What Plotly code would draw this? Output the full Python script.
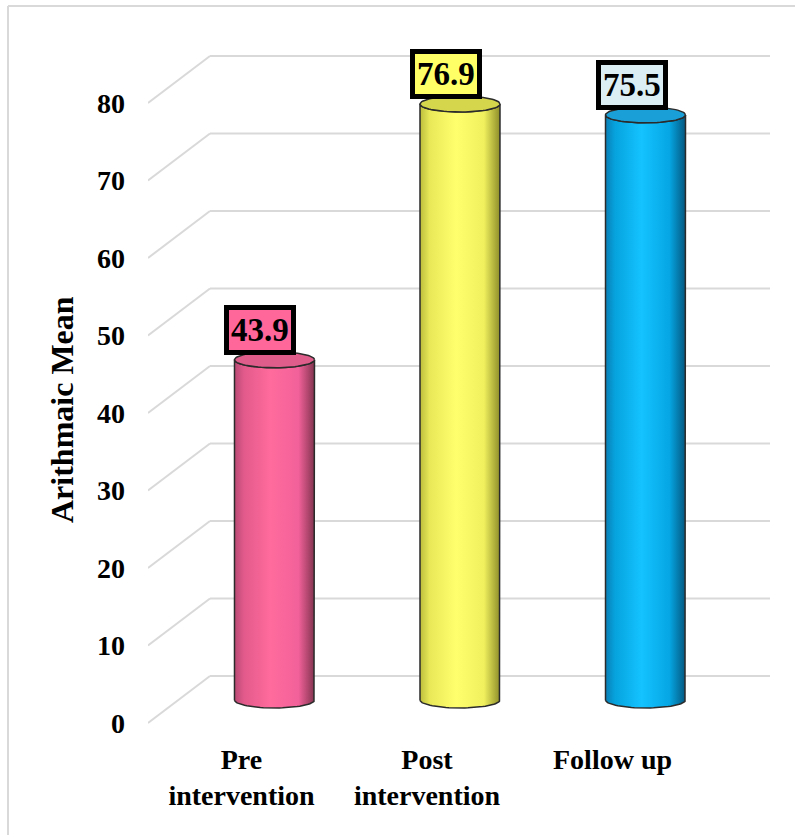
import numpy as np
import plotly.graph_objects as go

# ---- data ----
categories = ["Pre<br>intervention", "Post<br>intervention", "Follow up"]
mean_values = [43.9, 76.9, 75.5]
tick_values = [0, 10, 20, 30, 40, 50, 60, 70, 80]

# ---- styling ----
body_scales = [
    [[0, "#B84A73"], [0.12, "#E25A8B"], [0.45, "#FF6B9C"], [0.8, "#F2619A"], [1, "#83344F"]],
    [[0, "#BDBD3C"], [0.12, "#E8E858"], [0.45, "#FFFF6E"], [0.8, "#F0F05E"], [1, "#8E8E2A"]],
    [[0, "#0A7FB5"], [0.12, "#06A3DE"], [0.45, "#14C3FF"], [0.8, "#05A6E3"], [1, "#04577F"]],
]
top_colors = ["#DE5D8B", "#D6D64C", "#1AA0D6"]
label_fills = ["#FF6699", "#FFFF66", "#DAEEF3"]
GRID = "#D9D9D9"
FONT = "Liberation Serif, Times New Roman, serif"

W, H = 795, 835
M_L, M_R, M_T, M_B = 148, 25, 30, 95
plot_w = W - M_L - M_R
plot_h = H - M_T - M_B

# axis scales (front face of the 3D box)
x_range = [-0.504, 2.849]
y_range = [-2.19, 89.42]
px_per_x = plot_w / (x_range[1] - x_range[0])
px_per_y = plot_h / (y_range[1] - y_range[0])

# depth of the box: back wall offset from the front axis
depth_dx = 62 / px_per_x
depth_dy = 47 / px_per_y
# columns stand half way into the box
col_shift = 23 / px_per_y
y2_range = [y_range[0] - col_shift, y_range[1] - col_shift]

bar_width = 80 / px_per_x
bar_offset = 33 / px_per_x
ell_b = 8 / px_per_y


def px_to_paper_x(px):
    return (px - M_L) / plot_w


def px_to_paper_y(py):
    return (H - M_B - py) / plot_h


fig = go.Figure()

t = np.linspace(0, np.pi, 40)
a = bar_width / 2
for i, v in enumerate(mean_values):
    xc = i + bar_offset
    xl, xr = xc - a, xc + a
    # cylinder body: left side, front arc of top, right side, front arc of base
    bx = np.concatenate([[xl, xl], xc - a * np.cos(t), [xr, xr], xc + a * np.cos(t)])
    by = np.concatenate([[0, v], v - ell_b * np.sin(t), [v, 0], -ell_b * np.sin(t)])
    fig.add_trace(go.Scatter(
        x=bx, y=by, yaxis="y2", mode="lines", fill="toself",
        fillgradient=dict(type="horizontal", colorscale=body_scales[i]),
        line=dict(color="#2B2B2B", width=1.5), hoverinfo="skip", showlegend=False,
    ))
    # cylinder top
    tt = np.linspace(0, 2 * np.pi, 80)
    fig.add_trace(go.Scatter(
        x=xc + a * np.cos(tt), y=v + ell_b * np.sin(tt), yaxis="y2",
        mode="lines", fill="toself", fillcolor=top_colors[i],
        line=dict(color="#2B2B2B", width=1.5), hoverinfo="skip", showlegend=False,
    ))
    # value label
    fig.add_annotation(
        x=xc, y=v, xref="x", yref="y2", text=f"<b>{v}</b>", showarrow=False,
        xshift=-14, yshift=30, bgcolor=label_fills[i], bordercolor="#000000",
        borderwidth=5, borderpad=2,
        font=dict(family=FONT, size=33, color="#000000"),
    )

# 3D box gridlines: short diagonal on the floor/side, then back-wall line
shapes = []
for tv in tick_values:
    shapes.append(dict(type="line", xref="x", yref="y", layer="below",
                       x0=x_range[0], y0=tv, x1=x_range[0] + depth_dx, y1=tv + depth_dy,
                       line=dict(color=GRID, width=2)))
    shapes.append(dict(type="line", xref="x", yref="y", layer="below",
                       x0=x_range[0] + depth_dx, y0=tv + depth_dy, x1=x_range[1], y1=tv + depth_dy,
                       line=dict(color=GRID, width=2)))

# chart frame
shapes.append(dict(type="line", xref="paper", yref="paper",
                   x0=px_to_paper_x(8), y0=px_to_paper_y(6), x1=px_to_paper_x(W + 5), y1=px_to_paper_y(6),
                   line=dict(color=GRID, width=2)))
shapes.append(dict(type="line", xref="paper", yref="paper",
                   x0=px_to_paper_x(8), y0=px_to_paper_y(6), x1=px_to_paper_x(8), y1=px_to_paper_y(H + 5),
                   line=dict(color=GRID, width=2)))

fig.add_annotation(
    x=px_to_paper_x(64), y=px_to_paper_y(410), xref="paper", yref="paper",
    xanchor="center", yanchor="middle",
    text="<b>Arithmaic Mean</b>", textangle=-90, showarrow=False, xshift=-2,
    font=dict(family=FONT, size=32, color="#000000"),
)

fig.update_layout(
    width=W, height=H,
    margin=dict(l=M_L, r=M_R, t=M_T, b=M_B, autoexpand=False),
    paper_bgcolor="white", plot_bgcolor="white",
    shapes=shapes,
    xaxis=dict(range=x_range, tickmode="array", tickvals=list(range(len(categories))),
               ticktext=[f"<b>{c}</b>" for c in categories],
               showgrid=False, zeroline=False, showline=False, ticks="",
               ticklabelstandoff=0,
               tickfont=dict(family=FONT, size=28, color="#000000"), fixedrange=True),
    yaxis=dict(range=y_range, tickmode="array", tickvals=tick_values,
               ticktext=[f"<b>{v}</b>" for v in tick_values],
               showgrid=False, zeroline=False, showline=False, ticks="",
               ticklabelstandoff=22,
               tickfont=dict(family=FONT, size=28, color="#000000"), fixedrange=True),
    yaxis2=dict(range=y2_range, overlaying="y", visible=False, fixedrange=True),
)

fig.write_html("out.html")
